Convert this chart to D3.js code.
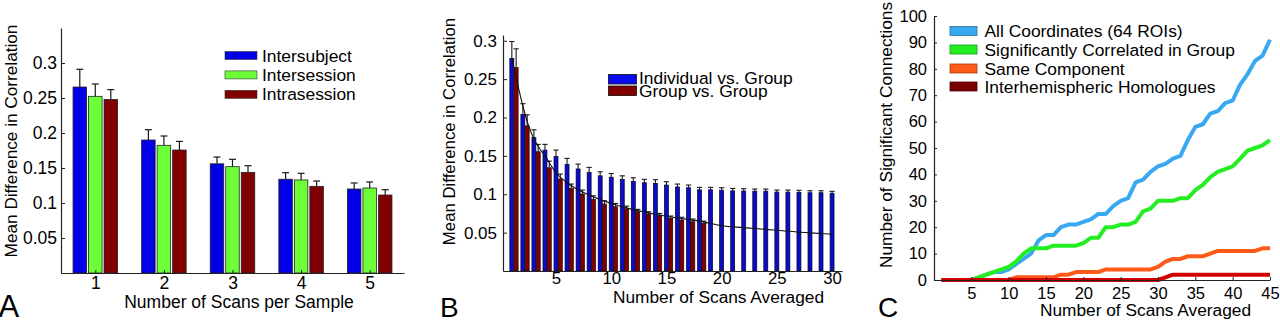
<!DOCTYPE html>
<html><head><meta charset="utf-8">
<script src="https://cdn.jsdelivr.net/npm/d3@7"></script>
<style>
body{margin:0;background:#fff}
svg{display:block}
text{font-family:"Liberation Sans",Arial,Helvetica,sans-serif;fill:#000}
</style>
</head><body>
<svg id="chart" width="1280" height="324"></svg>
<script>
// ---------- Panel A data ----------
const catsA = [1, 2, 3, 4, 5];
const seriesNamesA = ["Intersubject", "Intersession", "Intrasession"];
const intersubject = [0.2657, 0.190, 0.156, 0.134, 0.120];
const intersubjectErr = [0.0253, 0.0147, 0.0097, 0.0093, 0.0086];
const intersession = [0.2524, 0.1824, 0.1519, 0.1329, 0.1214];
const intersessionErr = [0.0176, 0.0133, 0.0105, 0.0095, 0.0086];
const intrasession = [0.248, 0.1757, 0.1438, 0.1238, 0.1114];
const intrasessionErr = [0.014, 0.0123, 0.0095, 0.0076, 0.0076];
const colorsA = ["#0000e6", "#6cff38", "#800000"];
const yTicksA = [0.05, 0.1, 0.15, 0.2, 0.25, 0.3];
const yTickLabelsA = ["0.05", "0.1", "0.15", "0.2", "0.25", "0.3"];

// ---------- Panel B data ----------
const scansB = d3.range(1, 31);
const indivVsGroup = [0.277, 0.204, 0.174, 0.1575, 0.149, 0.139, 0.133, 0.1285, 0.124, 0.1222,
  0.1194, 0.1168, 0.115, 0.1142, 0.112, 0.1095, 0.1085, 0.1058, 0.1058, 0.1053,
  0.1045, 0.1042, 0.104, 0.104, 0.1028, 0.1028, 0.1025, 0.102, 0.102, 0.1013];
const indivVsGroupErr = [0.022, 0.014, 0.010, 0.0075, 0.0086, 0.0077, 0.0063, 0.0065, 0.0053, 0.0048,
  0.0046, 0.0047, 0.0044, 0.0048, 0.0043, 0.0038, 0.0035, 0.0032, 0.0032, 0.0032,
  0.0031, 0.003, 0.0028, 0.0028, 0.0027, 0.0027, 0.0026, 0.0026, 0.0026, 0.0025];
const scansGroupB = d3.range(1, 19);
const groupVsGroup = [0.265, 0.189, 0.1554, 0.1345, 0.1198, 0.1076, 0.1003, 0.0933, 0.0872, 0.0837,
  0.081, 0.0772, 0.0742, 0.072, 0.0686, 0.0664, 0.0642, 0.062];
const groupVsGroupErr = [0.0245, 0.0145, 0.0096, 0.0087, 0.0065, 0.0057, 0.0052, 0.0047, 0.0043, 0.0043,
  0.0036, 0.0031, 0.003, 0.003, 0.003, 0.0036, 0.0035, 0.003];
const fitX = [1, 1.5, 2, 2.5, 3, 3.5, 4, 5, 6, 7, 8, 9, 10, 12, 14, 16, 18, 20, 22, 25, 28, 30];
const fitY = [0.277, 0.245, 0.215, 0.19, 0.172, 0.16, 0.15, 0.128, 0.115, 0.106, 0.099, 0.093, 0.088,
  0.080, 0.074, 0.069, 0.065, 0.059, 0.0565, 0.053, 0.0497, 0.048];
const seriesNamesB = ["Individual vs. Group", "Group vs. Group"];
const colorsB = ["#0c0cc8", "#800000"];
const legendColorsB = ["#0a0af0", "#800000"];
const yTicksB = [0.05, 0.1, 0.15, 0.2, 0.25, 0.3];
const yTickLabelsB = ["0.05", "0.1", "0.15", "0.2", "0.25", "0.3"];
const xTicksB = [5, 10, 15, 20, 25, 30];

// ---------- Panel C data ----------
const scansC = d3.range(1, 46);
const allCoords = [0, 0, 0, 0, 0, 1, 2, 3, 3, 4, 6, 8, 10, 15, 17, 17, 20, 21, 21, 22,
  23, 25, 25, 28, 30, 31, 37, 38, 41, 43, 44, 46, 47, 53, 58, 59, 63, 64, 67, 68,
  74, 78, 83, 85, 91];
const sigCorrGroup = [0, 0, 0, 0, 0, 1, 2, 3, 4, 5, 7, 10, 12, 12, 12, 13, 13, 13, 13, 14,
  16, 16, 20, 20, 21, 21, 22, 26, 27, 30, 30, 30, 31, 31, 34, 36, 39, 41, 42, 43,
  46, 49, 50, 51, 53];
const sameComponent = [0, 0, 0, 0, 0, 0, 0, 0, 0, 0, 1, 1, 1, 1, 1, 1, 2, 2, 3, 3,
  3, 3, 4, 4, 4, 4, 4, 4, 4, 5, 7, 8, 8, 9, 9, 9, 10, 11, 11, 11,
  11, 11, 11, 12, 12];
const interHomologues = [0, 0, 0, 0, 0, 0, 0, 0, 0, 0, 0, 0, 0, 0, 0, 0, 0, 0, 0, 0,
  0, 0, 0, 0, 0, 0, 0, 0, 0, 0, 1, 2, 2, 2, 2, 2, 2, 2, 2, 2,
  2, 2, 2, 2, 2];
const seriesNamesC = ["All Coordinates (64 ROIs)", "Significantly Correlated in Group", "Same Component", "Interhemispheric Homologues"];
const lineColorsC = ["#38a8f0", "#22ee22", "#ff5a1a", "#d00000"];
const legendColorsC = ["#38a8f0", "#22ee22", "#ff5a1a", "#7a0000"];
const yTicksC = [0, 10, 20, 30, 40, 50, 60, 70, 80, 90, 100];
const xTicksC = [5, 10, 15, 20, 25, 30, 35, 40, 45];

// ---------- drawing ----------
const svg = d3.select("#chart");
const FONT = '"Liberation Sans",Arial,Helvetica,sans-serif';
const TITLE = 17.3, LEG = 17.4;

function styleAxis(g, size) {
  g.attr("font-family", FONT).attr("font-size", size);
  g.select(".domain").attr("stroke", "#222").attr("stroke-width", 1.2);
  g.selectAll(".tick line").attr("stroke", "#222");
  g.selectAll(".tick text").attr("fill", "#000");
}

function errBar(g, x, yTop, yBot, half, sw) {
  g.append("line").attr("x1", x).attr("x2", x).attr("y1", yBot).attr("y2", yTop)
    .attr("stroke", "#1a1a1a").attr("stroke-width", sw);
  g.append("line").attr("x1", x - half).attr("x2", x + half).attr("y1", yTop).attr("y2", yTop)
    .attr("stroke", "#1a1a1a").attr("stroke-width", sw);
}

// ===== Panel A =====
(function () {
  const x = d3.scaleLinear().domain([0.5, 5.5]).range([61, 404]);
  const y = d3.scaleLinear().domain([0, 0.35]).range([273, 28]);
  const g = svg.append("g");
  const vals = [intersubject, intersession, intrasession];
  const errs = [intersubjectErr, intersessionErr, intrasessionErr];
  const offs = [-0.226, 0, 0.226];
  const bw = 0.197;
  vals.forEach((arr, si) => {
    arr.forEach((v, i) => {
      const cx = x(catsA[i] + offs[si]);
      const w = x(bw) - x(0);
      g.append("rect").attr("x", cx - w / 2).attr("y", y(v))
        .attr("width", w).attr("height", y(0) - y(v))
        .attr("fill", colorsA[si]).attr("stroke", "#222").attr("stroke-width", 0.8);
      errBar(g, cx, y(v + errs[si][i]), y(v), 3.5, 1.2);
    });
  });
  const ya = g.append("g").attr("transform", `translate(${x(0.5)},0)`)
    .call(d3.axisLeft(y).tickValues(yTicksA).tickFormat((d, i) => yTickLabelsA[i])
      .tickSizeInner(-4).tickSizeOuter(0).tickPadding(4));
  styleAxis(ya, 17.5);
  const xa = g.append("g").attr("transform", `translate(0,${y(0)})`)
    .call(d3.axisBottom(x).tickValues(catsA).tickFormat(d => String(d))
      .tickSizeInner(-3).tickSizeOuter(0).tickPadding(4));
  styleAxis(xa, 17.5);
  seriesNamesA.forEach((n, i) => {
    const cy = 55.5 + i * 19.4;
    g.append("rect").attr("x", 225).attr("y", cy - 4).attr("width", 32).attr("height", 8)
      .attr("fill", colorsA[i]).attr("stroke", "#333").attr("stroke-width", 0.6);
    g.append("text").attr("x", 262).attr("y", cy + 6).attr("font-size", LEG).text(n);
  });
  g.append("text").attr("transform", "translate(16.5,141) rotate(-90)")
    .attr("text-anchor", "middle").attr("font-size", 17.2).text("Mean Difference in Correlation");
  g.append("text").attr("x", 239).attr("y", 308).attr("text-anchor", "middle")
    .attr("font-size", 17.5).text("Number of Scans per Sample");
  g.append("text").attr("x", -1.5).attr("y", 316.5).attr("font-size", 31).text("A");
})();

// ===== Panel B =====
(function () {
  const x = d3.scaleLinear().domain([0.2, 30.9]).range([503, 842]);
  const y = d3.scaleLinear().domain([0, 0.3075]).range([271, 35]);
  const g = svg.append("g");
  const w = x(0.36) - x(0);
  indivVsGroup.forEach((v, i) => {
    const cx = x(scansB[i]);
    g.append("rect").attr("x", cx - w / 2).attr("y", y(v)).attr("width", w).attr("height", y(0) - y(v))
      .attr("fill", colorsB[0]).attr("stroke", "#00002a").attr("stroke-width", 0.7);
    errBar(g, cx, y(v + indivVsGroupErr[i]), y(v), 2.6, 1.1);
  });
  groupVsGroup.forEach((v, i) => {
    const cx = x(scansGroupB[i] + 0.39);
    g.append("rect").attr("x", cx - w / 2).attr("y", y(v)).attr("width", w).attr("height", y(0) - y(v))
      .attr("fill", colorsB[1]).attr("stroke", "#200000").attr("stroke-width", 0.7);
    errBar(g, cx, y(v + groupVsGroupErr[i]), y(v), 2.6, 1.1);
  });
  const fit = fitX.map((d, i) => [d, fitY[i]]);
  g.append("path").datum(fit)
    .attr("d", d3.line().x(d => x(d[0])).y(d => y(d[1])).curve(d3.curveMonotoneX))
    .attr("fill", "none").attr("stroke", "#111").attr("stroke-width", 1.1);
  const ya = g.append("g").attr("transform", `translate(${x(0.2)},0)`)
    .call(d3.axisLeft(y).tickValues(yTicksB).tickFormat((d, i) => yTickLabelsB[i])
      .tickSizeInner(-4).tickSizeOuter(0).tickPadding(6));
  styleAxis(ya, 17);
  const xa = g.append("g").attr("transform", `translate(0,${y(0)})`)
    .call(d3.axisBottom(x).tickValues(xTicksB).tickFormat(d => String(d))
      .tickSizeInner(-3).tickSizeOuter(0).tickPadding(1));
  styleAxis(xa, 16.8);
  const ly = [74.5, 86];
  seriesNamesB.forEach((n, i) => {
    g.append("rect").attr("x", 608.5).attr("y", ly[i]).attr("width", 28).attr("height", 9.5)
      .attr("fill", legendColorsB[i]).attr("stroke", "#111").attr("stroke-width", 0.8);
    g.append("text").attr("x", 639).attr("y", [83.5, 96.8][i]).attr("font-size", LEG).text(n);
  });
  g.append("text").attr("transform", "translate(455,131.5) rotate(-90)")
    .attr("text-anchor", "middle").attr("font-size", 16.8).text("Mean Difference in Correlation");
  g.append("text").attr("x", 718.5).attr("y", 303).attr("text-anchor", "middle")
    .attr("font-size", TITLE).text("Number of Scans Averaged");
  g.append("text").attr("x", 440).attr("y", 317).attr("font-size", 28).text("B");
})();

// ===== Panel C =====
(function () {
  const x = d3.scaleLinear().domain([0, 45]).range([934, 1270]);
  const y = d3.scaleLinear().domain([0, 100]).range([280, 16]);
  const g = svg.append("g");
  const series = [allCoords, sigCorrGroup, sameComponent, interHomologues];
  const line = d3.line().x((d, i) => x(scansC[i])).y(d => y(d));
  series.forEach((s, si) => {
    g.append("path").datum(s).attr("d", line)
      .attr("fill", "none").attr("stroke", lineColorsC[si]).attr("stroke-width", 4)
      .attr("stroke-linejoin", "round").attr("stroke-linecap", "butt");
  });
  const ya = g.append("g").attr("transform", `translate(${x(0)},0)`)
    .call(d3.axisLeft(y).tickValues(yTicksC).tickFormat(d => String(d))
      .tickSizeInner(-3).tickSizeOuter(0).tickPadding(7));
  styleAxis(ya, 16.5);
  const xa = g.append("g").attr("transform", `translate(0,${y(0)})`)
    .call(d3.axisBottom(x).tickValues(xTicksC).tickFormat(d => String(d))
      .tickSizeInner(-3).tickSizeOuter(0).tickPadding(7));
  styleAxis(xa, 16.5);
  const ly = [31, 49.5, 68.5, 86.5];
  seriesNamesC.forEach((n, i) => {
    g.append("rect").attr("x", 950).attr("y", ly[i] - 4.5).attr("width", 27).attr("height", 9)
      .attr("fill", legendColorsC[i]).attr("stroke", d3.color(legendColorsC[i]).darker(1.2)).attr("stroke-width", 0.8);
    g.append("text").attr("x", 984.5).attr("y", ly[i] + 6).attr("font-size", LEG).text(n);
  });
  g.append("text").attr("transform", "translate(891.5,135) rotate(-90)")
    .attr("text-anchor", "middle").attr("font-size", TITLE).text("Number of Significant Connections");
  g.append("text").attr("x", 1145.5).attr("y", 316).attr("text-anchor", "middle")
    .attr("font-size", TITLE).text("Number of Scans Averaged");
  g.append("text").attr("x", 878).attr("y", 317).attr("font-size", 28).text("C");
})();
</script>
</body></html>
